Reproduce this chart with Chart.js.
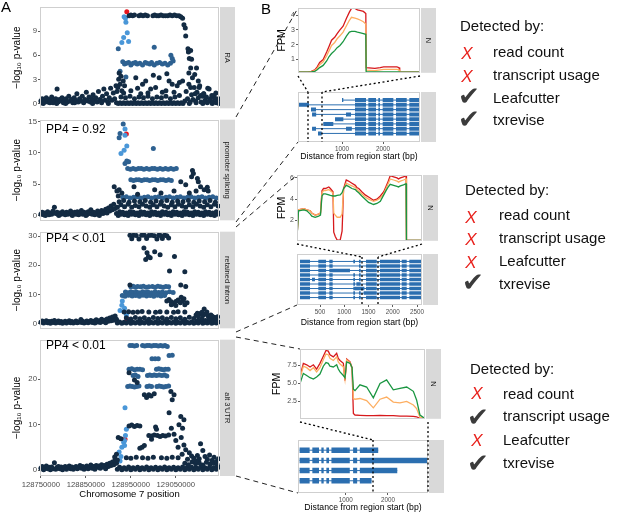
<!DOCTYPE html>
<html>
<head>
<meta charset="utf-8">
<script src="https://cdn.jsdelivr.net/npm/chart.js@4.4.0/dist/chart.umd.min.js"></script>
<style>
  body { margin: 0; background: #fff; }
  #fig { position: relative; width: 617px; height: 513px; overflow: hidden; font-family: "Liberation Sans", Arial, sans-serif; }
  #fig canvas { position: absolute; }
  .t { position: absolute; white-space: nowrap; line-height: 1; color: #111; font-size: 15px; }
  .mk { position: absolute; width: 24px; height: 24px; display: flex; align-items: center; justify-content: center; line-height: 1; }
  .no { color: #e8211c; font-style: italic; font-size: 17px; }
  .yes { color: #3b3b3b; font-family: "DejaVu Sans"; font-size: 26px; }
  svg { position: absolute; left: 0; top: 0; }
</style>
</head>
<body>
<div id="fig">
  <canvas id="a1" width="238" height="114" style="left:0;top:0"></canvas>
  <canvas id="a2" width="238" height="112" style="left:0;top:114px"></canvas>
  <canvas id="a3" width="238" height="108" style="left:0;top:226px"></canvas>
  <canvas id="a4" width="238" height="179" style="left:0;top:334px"></canvas>
  <canvas id="c1" width="170" height="78" style="left:270px;top:0"></canvas>
  <canvas id="t1" width="170" height="77" style="left:270px;top:88px"></canvas>
  <canvas id="c2" width="172" height="81" style="left:270px;top:165px"></canvas>
  <canvas id="t2" width="172" height="80" style="left:270px;top:250px"></canvas>
  <canvas id="c3" width="175" height="84" style="left:270px;top:340px"></canvas>
  <canvas id="t3" width="175" height="77" style="left:270px;top:436px"></canvas>

  <svg width="617" height="513">
    <g stroke="#222" stroke-width="1" stroke-dasharray="5 4" fill="none">
      <line x1="236" y1="117" x2="298" y2="8"/>
      <line x1="236" y1="222" x2="298" y2="142"/>
      <line x1="236" y1="227" x2="297" y2="175"/>
      <line x1="236" y1="332" x2="297" y2="305"/>
      <line x1="236" y1="337" x2="300" y2="349"/>
      <line x1="236" y1="476" x2="298" y2="493"/>
    </g>
    <g stroke="#000" stroke-width="1.3" stroke-dasharray="2 2.5" fill="none">
      <line x1="298" y1="76" x2="308" y2="92"/>
      <line x1="420" y1="76" x2="322" y2="92"/>
      <line x1="308" y1="92" x2="308" y2="142"/>
      <line x1="322" y1="92" x2="322" y2="142"/>
      <line x1="297" y1="244" x2="362" y2="257"/>
      <line x1="422" y1="244" x2="378" y2="257"/>
      <line x1="362" y1="257" x2="362" y2="305"/>
      <line x1="378" y1="257" x2="378" y2="305"/>
      <line x1="300" y1="422" x2="373" y2="440"/>
      <line x1="373" y1="440" x2="373" y2="493"/>
      <line x1="428" y1="422" x2="428" y2="493"/>
    </g>
  </svg>

  <div class="t" style="left:1px;top:-1px;font-size:15px;color:#000">A</div>
  <div class="t" style="left:261px;top:1px;font-size:15px;color:#000">B</div>

  <div class="t" style="left:460px;top:18px">Detected by:</div>
  <div class="mk no" style="left:455px;top:41px">X</div><div class="t" style="left:493px;top:44px">read count</div>
  <div class="mk no" style="left:455px;top:64px">X</div><div class="t" style="left:493px;top:67px">transcript usage</div>
  <div class="mk yes" style="left:457px;top:84px">✔</div><div class="t" style="left:493px;top:90px">Leafcutter</div>
  <div class="mk yes" style="left:457px;top:107px">✔</div><div class="t" style="left:493px;top:112px">txrevise</div>

  <div class="t" style="left:465px;top:182px">Detected by:</div>
  <div class="mk no" style="left:459px;top:205px">X</div><div class="t" style="left:499px;top:207px">read count</div>
  <div class="mk no" style="left:459px;top:227px">X</div><div class="t" style="left:499px;top:230px">transcript usage</div>
  <div class="mk no" style="left:459px;top:250px">X</div><div class="t" style="left:499px;top:253px">Leafcutter</div>
  <div class="mk yes" style="left:461px;top:270px">✔</div><div class="t" style="left:499px;top:276px">txrevise</div>

  <div class="t" style="left:470px;top:361px">Detected by:</div>
  <div class="mk no" style="left:465px;top:381px">X</div><div class="t" style="left:503px;top:386px">read count</div>
  <div class="mk yes" style="left:466px;top:405px">✔</div><div class="t" style="left:503px;top:408px">transcript usage</div>
  <div class="mk no" style="left:465px;top:428px">X</div><div class="t" style="left:503px;top:432px">Leafcutter</div>
  <div class="mk yes" style="left:466px;top:451px">✔</div><div class="t" style="left:503px;top:455px">txrevise</div>
</div>

<script>
// ---- panel A: positions are kb past chrOffset, values are -log10 p ----
const chrOffset = 128750000;
const chrTicks = [128750000, 128850000, 128950000, 129050000];

const raDark = [
  0,0.3, 3,0.6, 5,0.0, 6,0.1, 9,0.4, 12,0.7, 15,0.2, 18,0.5, 20,0.1, 21,0.3, 24,0.8, 27,0.1, 30,0.4, 33,0.6, 35,0.0, 36,1.8, 38,0.2, 41,0.5, 44,0.3, 47,0.7, 50,0.1, 53,0.4, 55,0.0, 56,0.6, 59,0.2, 62,0.9, 65,0.3, 68,0.5, 71,0.1, 74,0.7, 75,0.1, 77,0.4, 80,1.2, 83,0.2, 86,0.6, 89,0.3, 92,0.9, 95,0.1, 98,0.5, 101,1.4, 104,0.3, 107,0.8, 110,0.2, 113,0.6, 115,0.0, 116,1.1, 119,0.4, 122,0.7, 125,0.2, 128,1.5, 131,0.5, 134,0.3, 135,0.1, 137,0.9, 140,1.8, 143,0.4, 146,1.2, 149,0.2, 150,0.0, 152,0.7, 155,1.9, 158,0.4, 161,1.3, 164,0.6, 167,2.2,
  168,0.1, 172,0.0, 176,0.1, 180,0.0, 184,0.1, 188,0.0, 192,0.1, 196,0.0, 200,0.1, 204,0.0, 208,0.1, 212,0.0, 216,0.1, 220,0.0, 224,0.1, 228,0.0, 232,0.1, 236,0.0, 240,0.1, 244,0.0, 248,0.1, 252,0.0, 256,0.1, 260,0.0, 264,0.1, 268,0.0, 272,0.1, 276,0.0, 280,0.1, 284,0.0, 288,0.1, 292,0.0, 296,0.1, 300,0.0, 304,0.1, 308,0.0, 312,0.1, 316,0.0,
  178,0.8, 188,0.7, 198,0.9, 208,0.6, 218,0.8, 228,0.7, 238,0.9, 248,0.6, 258,0.8, 268,0.7, 278,0.9, 288,0.6, 298,0.8, 308,1.0,
  320,0.3, 323,1.5, 326,0.6, 329,2.4, 330,0.0, 332,0.2, 335,1.1, 338,0.5, 341,2.0, 344,0.3, 345,0.1, 347,1.4, 350,0.7, 353,2.2, 356,0.2, 359,0.9, 360,0.0, 362,1.2, 365,0.4, 368,0.8, 370,0.1, 371,1.9, 374,0.3, 377,0.6, 380,1.0, 381,0.0, 383,0.2, 386,0.7, 389,1.3, 390,0.1, 392,0.4, 395,0.6, 396,0.0,
  196,10.9, 200,11.0, 204,10.9, 208,11.0, 218,10.9, 222,11.0, 227,10.9, 232,11.0, 237,10.9, 249,10.9, 253,11.0, 258,10.9, 262,10.9, 267,11.0, 272,10.9, 277,10.9, 282,10.9, 287,11.0, 292,10.9, 297,11.0, 302,10.9, 307,10.9, 311,10.8,
  315,10.6, 318,9.8, 321,9.4, 322,8.4, 327,6.8, 333,6.6, 328,6.4, 330,5.6, 335,5.5, 333,4.4, 346,4.4, 329,3.8, 337,3.2, 342,3.6, 350,2.8,
  211,3.2, 233,2.8, 263,3.2, 285,2.8, 226,2.4, 244,1.8, 222,1.2, 270,1.4, 292,2.4, 303,2.2, 308,2.6, 315,2.8, 333,2.0, 343,1.2, 352,2.0, 374,1.8, 355,1.0, 362,1.2, 385,1.0, 200,1.6, 215,1.9, 238,1.3, 255,2.0, 278,1.6, 296,1.4, 250,3.5, 280,3.7,
  174,3.8, 178,3.4, 173,3.0, 183,2.8, 176,2.4, 186,2.2, 171,2.0, 180,1.6, 184,1.3, 169,1.5
];
const raMid = [182,5.2, 186,4.9, 190,5.0, 195,5.1, 200,4.8, 205,5.0, 210,5.1, 214,4.9, 220,5.0, 226,4.8, 232,5.1, 236,5.0, 242,4.9, 246,5.1, 252,4.8, 258,5.0, 264,5.1, 270,4.9, 276,5.0, 282,4.8, 288,5.0, 292,5.6, 294,5.3, 289,6.0, 172,6.8, 252,7.0, 189,3.3, 176,4.0];
const raLight = [185,10.8, 188,10.6, 189,10.1, 192,8.8, 184,8.2, 180,7.6, 195,7.7];
const raLead = [191,11.4];

const prDark = [
  0,0.2, 3,0.5, 6,0.1, 9,0.4, 10,0.0, 12,0.3, 15,0.6, 18,0.1, 21,0.4, 24,0.2, 27,0.7, 30,1.3, 33,0.3, 36,0.5, 39,0.1, 40,0.0, 42,0.4, 45,0.2, 48,0.6, 51,0.3, 54,0.1, 57,0.5, 60,0.2, 63,0.4, 66,0.7, 69,0.1, 70,0.0, 72,0.3, 75,0.5, 78,0.2, 81,0.6, 84,0.1, 87,0.4, 90,0.8, 93,0.2, 96,0.5, 99,0.3, 100,0.0, 102,0.1, 105,0.6, 108,0.3, 111,0.9, 114,0.2, 117,0.5, 120,0.1, 123,0.4, 126,0.7, 129,0.2, 130,0.0, 132,0.5, 135,0.8, 138,0.3, 141,0.6, 144,1.0, 147,0.4, 150,1.2, 153,0.7, 156,1.5, 159,0.9, 162,1.8, 165,1.1,
  168,0.3, 172,0.0, 175,0.6, 178,0.2, 182,0.5, 186,0.1, 190,0.4, 194,0.0, 198,0.6, 202,0.2, 206,0.5, 210,0.1, 214,0.4, 218,0.0, 222,0.6, 226,0.2, 230,0.5, 234,0.1, 238,0.4, 242,0.0, 246,0.6, 250,0.2, 254,0.5, 258,0.1, 262,0.4, 266,0.0, 270,0.6, 274,0.2, 278,0.5, 282,0.1, 286,0.4, 290,0.0, 294,0.6, 298,0.2, 302,0.5, 306,0.1, 310,0.4, 314,0.0, 318,0.6, 322,0.2, 326,0.5, 330,0.1, 334,0.4, 338,0.0, 342,0.6, 346,0.2, 350,0.5, 354,0.1, 358,0.4, 362,0.0, 366,0.6, 370,0.2, 374,0.5, 378,0.1, 382,0.4, 386,0.0, 390,0.6, 394,0.2, 396,0.4,
  170,1.3, 178,1.7, 186,1.4, 194,1.8, 202,1.3, 210,1.6, 218,1.4, 226,1.8, 234,1.5, 242,1.3, 250,1.7, 258,1.4, 266,1.8, 274,1.5, 282,1.3, 290,1.7, 298,1.4, 306,1.8, 314,1.5, 322,1.3, 330,1.7, 338,1.4, 346,1.8, 354,1.5, 362,1.3, 370,1.7, 378,1.4, 386,1.8, 394,1.5,
  174,2.2, 184,2.4, 196,2.1, 208,2.3, 220,2.2, 232,2.4, 244,2.1, 256,2.3, 268,2.2, 280,2.4, 292,2.1, 304,2.3, 316,2.2, 328,2.4, 340,2.1, 352,2.3, 364,2.2, 376,2.4, 388,2.1,
  163,4.6, 169,3.9, 174,4.1, 172,3.1, 180,3.6, 207,4.6, 215,3.4, 253,4.1, 267,3.6, 296,3.9,
  337,7.2, 339,6.7, 335,6.2, 348,5.9, 350,5.4, 311,5.4, 322,4.9, 355,4.6, 363,4.1, 370,4.5, 372,3.9, 330,3.6, 345,3.9
];
const prMid = [
  182,2.9, 190,3.0, 198,2.8, 206,2.9, 214,3.0, 222,2.8, 230,2.9, 238,3.0, 246,2.8, 254,2.9, 262,3.0, 270,2.8, 278,2.9, 286,3.0, 294,2.8, 302,2.9, 310,3.0, 318,2.8, 326,2.9, 334,3.0, 342,2.8, 350,2.9, 358,3.0, 366,2.8, 374,2.9, 382,3.0, 390,2.8,
  200,5.7, 206,5.6, 212,5.7, 218,5.7, 224,5.6, 230,5.7, 236,5.7, 242,5.6, 248,5.7, 254,5.7, 260,5.6, 266,5.7, 272,5.7, 278,5.6, 284,5.7, 290,5.6,
  193,7.5, 199,7.4, 205,7.5, 211,7.4, 217,7.5, 223,7.5, 229,7.4, 235,7.5, 241,7.4, 247,7.5, 253,7.5, 259,7.4, 265,7.5, 271,7.4, 277,7.5, 283,7.4, 289,7.5, 295,7.4, 301,7.5,
  191,8.7, 187,8.3, 195,8.6, 183,14.6, 176,13.1, 174,12.4, 250,10.7
];
const prLight = [187,13.8, 187,12.8, 191,11.1, 185,10.4, 178,9.9];
const prLead = [190,13.0];

const riDark = [
  0,0.5, 3,0.9, 6,0.2, 9,0.6, 12,1.0, 15,0.3, 18,0.7, 21,0.1, 24,0.8, 27,0.4, 30,1.1, 33,0.2, 36,0.6, 39,0.9, 42,0.3, 45,0.7, 48,0.1, 51,0.5, 54,0.8, 57,0.2, 60,0.6, 63,1.0, 66,0.3, 69,0.7, 72,0.2, 75,0.5, 78,0.9, 81,0.3, 84,0.6, 89,1.4, 90,0.4, 93,0.8, 96,0.2, 99,0.5, 102,0.9, 105,0.3, 108,0.7, 111,1.1, 114,0.4, 117,0.8, 120,0.2, 123,1.3, 126,0.6, 129,1.0, 132,0.4, 135,1.5, 138,0.7, 141,1.2, 144,0.3, 147,1.6, 150,0.8, 153,1.9, 156,1.0, 159,2.3, 162,1.2, 165,2.6, 168,1.5,
  170,0.2, 175,0.6, 180,0.1, 185,0.5, 190,0.2, 195,0.7, 200,0.1, 205,0.5, 210,0.2, 215,0.6, 220,0.1, 225,0.5, 230,0.2, 235,0.7, 240,0.1, 245,0.5, 250,0.2, 255,0.6, 260,0.1, 265,0.5, 270,0.2, 275,0.7, 280,0.1, 285,0.5, 290,0.2, 295,0.6, 300,0.1, 305,0.5, 310,0.2, 315,0.7, 320,0.1, 325,0.5, 330,0.2, 335,0.6, 340,0.1, 345,0.5, 350,0.2, 355,0.7, 360,0.1, 365,0.5, 370,0.2, 375,0.6, 380,0.1, 385,0.5, 390,0.2, 395,0.6,
  190,2.0, 200,1.6, 210,2.1, 220,1.7, 230,2.0, 240,1.5, 250,2.1, 260,1.8, 270,2.0, 280,1.6, 290,2.1, 300,1.7, 310,2.0, 320,1.5, 330,2.2, 340,1.8, 350,1.2, 358,1.6, 366,1.1, 374,1.8, 382,1.3, 390,1.0,
  185,4.0, 195,4.1, 205,3.9, 215,4.0, 225,4.2, 240,4.0, 255,3.9, 265,4.1, 280,4.0, 295,3.9, 305,4.1, 320,4.0,
  363,5.0, 369,4.0, 355,3.5, 360,2.8, 345,3.0, 350,2.5, 365,3.2, 372,2.6, 378,3.0, 385,2.2, 375,1.8, 390,2.0, 348,3.6, 358,3.9, 380,2.6, 393,2.4,
  198,30.3, 202,29.1, 206,30.3, 212,30.2, 218,29.0, 224,30.3, 230,30.3, 235,29.2, 240,30.2, 246,30.3, 252,30.1, 258,29.0, 262,30.3, 266,30.2, 270,29.2, 275,30.3, 280,30.1, 284,29.3,
  229,25.9, 236,24.3, 233,22.0, 239,23.0, 243,22.6, 253,24.6, 265,23.6, 297,23.0, 286,18.0, 320,17.8, 311,13.2, 322,12.7, 198,13.2,
  280,7.8, 285,8.3, 290,7.5, 295,6.9, 300,7.6, 305,8.1, 310,7.2, 315,7.8, 320,6.5, 300,6.2, 290,6.5, 325,7.2, 312,9.0, 318,8.5
];
const riMid = [
  200,12.6, 205,12.8, 210,12.5, 215,12.7, 222,12.6, 228,12.8, 234,12.5, 240,12.6, 248,12.7, 254,12.5, 260,12.8, 266,12.6, 272,12.5, 278,12.7, 284,12.6,
  188,10.8, 194,10.6, 200,10.9, 206,10.7, 212,10.8, 218,10.6, 226,10.9, 232,10.7, 238,10.8, 246,10.6, 254,10.9, 262,10.7, 270,10.8, 278,10.6, 286,10.9, 294,10.7,
  181,9.6, 187,9.4, 195,9.7, 203,9.5, 211,9.6, 219,9.4, 227,9.7, 235,9.5, 243,9.6, 251,9.4, 259,9.7, 267,9.5, 275,9.6
];
const riLight = [181,7.8, 180,6.3, 186,5.3, 176,4.5, 190,3.0];
const riLead = [191,1.7];

const auDark = [
  0,0.4, 3,0.8, 6,0.1, 9,0.5, 12,0.9, 15,0.3, 18,0.6, 21,0.1, 24,0.7, 27,0.3, 30,1.6, 33,0.2, 36,0.6, 39,0.8, 42,0.3, 45,0.7, 48,0.1, 51,0.5, 54,0.8, 57,0.2, 60,0.6, 63,0.9, 66,0.3, 69,0.7, 72,0.2, 75,0.5, 78,0.8, 81,0.3, 84,0.6, 87,1.0, 90,0.4, 93,0.8, 96,0.2, 99,0.5, 102,0.9, 105,0.3, 108,0.7, 111,1.1, 114,0.4, 117,0.8, 120,0.2, 123,1.0, 126,0.6, 129,0.9, 132,0.4, 135,1.2, 138,0.7, 141,1.0, 144,0.3, 147,1.3, 150,0.8, 153,1.5, 156,1.0, 159,1.8, 162,1.2, 165,2.2, 168,1.5,
  170,0.2, 175,0.6, 180,0.1, 185,0.5, 190,0.2, 195,0.7, 200,0.1, 205,0.5, 210,0.2, 215,0.6, 220,0.1, 225,0.5, 230,0.2, 235,0.7, 240,0.1, 245,0.5, 250,0.2, 255,0.6, 260,0.1, 265,0.5, 270,0.2, 275,0.7, 280,0.1, 285,0.5, 290,0.2, 295,0.6, 300,0.1, 305,0.5, 310,0.2, 315,0.7, 320,0.1, 325,0.5, 330,0.2, 335,0.6, 340,0.1, 345,0.5, 350,0.2, 355,0.7, 360,0.1, 365,0.5, 370,0.2, 375,0.6, 380,0.1, 385,0.5, 390,0.2, 395,0.6,
  320,1.5, 328,1.2, 336,1.8, 344,1.4, 352,1.6, 360,1.1, 368,1.7, 376,1.3, 384,1.5, 392,1.2,
  164,2.9, 190,2.7, 200,2.6, 212,2.8, 226,2.7, 238,2.6, 250,2.8, 268,2.7, 280,2.6, 292,2.8, 305,2.7,
  355,5.8, 360,4.3, 348,3.2, 352,2.5, 365,3.0, 370,2.4, 375,3.3, 380,2.1, 385,2.8, 390,1.9, 395,2.5, 340,2.6, 345,2.0, 335,3.1, 330,3.8, 326,2.4,
  196,21.4, 230,16.6, 235,16.0, 240,16.6, 245,16.3, 252,16.8, 289,17.3, 296,16.6, 292,15.5, 208,19.8, 214,19.3,
  285,12.6, 311,11.8, 318,11.1, 307,10.0, 315,9.2, 290,9.2, 296,7.9, 300,6.5, 305,5.0, 312,7.2, 318,5.5, 322,4.5, 314,3.5,
  196,9.7, 202,9.9, 208,9.6, 214,9.8, 220,9.7, 255,9.5, 257,9.0,
  240,7.6, 246,7.5, 252,7.7, 259,7.6, 265,7.4, 271,7.6, 277,7.5, 284,7.7, 246,6.8, 230,5.4, 220,4.8, 225,5.0,
  172,7.2, 178,6.9, 168,3.5, 170,2.2
];
const auMid = [
  198,27.4, 203,27.4, 208,27.3, 213,27.4, 226,27.4, 231,27.3, 236,27.4, 241,27.4, 246,27.3, 251,27.4, 256,27.4, 261,27.3, 266,27.4, 271,27.3, 276,27.4, 281,27.2,
  285,25.2, 292,25.3, 247,24.5, 254,24.5, 261,24.5,
  196,22.2, 202,22.3, 208,22.1, 214,22.2, 220,22.2, 226,22.1, 257,22.2, 262,22.3, 267,22.2, 272,22.1, 277,22.2, 283,22.2,
  205,20.8, 210,20.9, 216,20.6, 237,20.8, 242,20.9, 247,20.8, 252,20.9, 257,20.8, 263,20.9, 269,20.8, 275,20.9, 280,20.7,
  193,18.4, 198,18.5, 203,18.4, 208,18.3, 213,18.4, 218,18.5, 236,18.4, 241,18.5, 246,18.4, 258,18.4, 263,18.5, 268,18.4, 273,18.3, 278,18.4, 284,18.5
];
const auLight = [174,4.0, 180,5.0, 184,6.1, 186,6.5, 188,7.6, 190,9.0, 186,5.4, 178,3.0, 176,2.0, 187,13.7];
const auLead = [187,6.8];

// ---- panel B: coverage (FPM) ----
const cov1X = [170,199,208,218,225,232,242,252,259,266,275,282,290,299,309,317,323,333,340,349,357,364,365,390,405,415,453,459,461,519];
const cov1Red = [0.14,0.15,0.2,0.3,0.5,0.8,1.0,1.5,1.9,2.3,2.5,2.75,3.0,3.25,3.8,4.2,4.45,4.45,4.35,4.3,4.25,4.1,0.45,0.4,0.45,0.5,0.5,0.45,0.14,0.14];
const cov1Orange = [0.14,0.15,0.18,0.25,0.4,0.65,0.85,1.25,1.6,1.95,2.15,2.4,2.6,2.85,3.3,3.65,3.85,3.8,3.75,3.65,3.55,3.4,0.28,0.25,0.3,0.33,0.33,0.3,0.14,0.14];
const cov1Green = [0.14,0.14,0.16,0.2,0.3,0.45,0.6,0.9,1.2,1.4,1.6,1.8,1.95,2.2,2.6,2.85,2.9,2.9,2.85,2.8,2.75,2.7,0.16,0.16,0.16,0.16,0.16,0.16,0.14,0.14];

const cov2X = [1365,1369,1383,1391,1400,1404,1413,1422,1427,1431,1435,1440,1449,1453,1460,1462,1466,1471,1479,1484,1488,1495,1501,1510,1519,1523,1528,1536,1545,1554,1563,1567,1576,1585,1594,1600,1605,1611,1620,1629,1633,1638,1646,1653,1654,1695];
const cov2Red = [0.4,3.0,3.1,3.0,2.9,2.7,2.5,2.6,2.7,4.8,5.0,5.0,5.15,5.0,4.7,0.9,0.5,0.15,0.15,1.0,5.0,5.8,5.7,5.5,5.3,5.1,5.0,4.7,4.4,4.2,4.0,3.9,4.0,4.3,4.7,5.2,5.6,6.2,6.1,6.0,5.9,6.0,6.1,6.2,0.15,0.12];
const cov2Orange = [0.4,3.0,3.1,3.0,2.9,2.7,2.5,2.6,2.7,4.6,4.8,4.8,4.9,4.8,4.6,2.7,2.5,2.3,2.3,2.6,4.9,5.5,5.4,5.25,5.1,4.9,4.75,4.5,4.2,4.0,3.85,3.8,3.9,4.1,4.5,5.0,5.4,5.9,5.8,5.7,5.6,5.7,5.8,5.9,0.15,0.12];
const cov2Green = [0.35,2.9,3.0,2.9,2.6,2.4,2.3,2.4,2.5,4.3,4.5,4.5,4.4,4.35,4.3,4.3,4.3,4.35,4.4,4.6,5.0,5.3,5.2,5.0,4.9,4.75,4.6,4.3,4.0,3.7,3.55,3.5,3.6,3.8,4.4,4.8,5.1,5.4,5.3,5.2,5.15,5.25,5.35,5.45,0.15,0.12];

const cov3X = [1640,1675,1710,1745,1780,1814,1849,1884,1912,1936,1954,1989,2024,2041,2059,2094,2111,2129,2164,2185,2199,2216,2268,2338,2408,2478,2547,2617,2687,2757,2827,2861,2896,2949];
const cov3Red = [6.0,7.8,7.6,7.3,7.6,7.0,7.8,8.8,9.6,9.5,9.0,8.7,9.2,8.5,8.2,7.8,5.4,8.4,8.0,7.2,0.8,0.6,0.55,0.5,0.5,0.55,0.5,0.5,0.45,0.45,0.4,0.35,0.12,0.1];
const cov3Orange = [5.7,7.4,7.2,6.8,7.2,6.6,7.2,8.3,9.1,9.0,8.5,8.2,8.7,8.0,7.7,7.3,5.6,8.3,7.9,7.0,2.9,2.8,2.9,2.6,1.6,2.8,3.1,2.4,2.3,2.5,2.0,1.5,0.3,0.1];
const cov3Green = [5.0,6.4,6.1,5.8,5.6,5.9,6.3,7.4,7.9,7.8,7.4,7.3,7.6,7.0,6.6,6.1,5.8,8.0,7.8,7.2,4.2,4.0,4.8,4.5,3.0,5.0,5.5,4.1,4.3,4.5,3.9,2.7,0.6,0.1];

// ---- panel B: transcript structures (bp from region start) ----
const tx1Spans = [[1000,2902],[-73,2902],[244,2902],[270,2902],[830,2902],[544,2902],[270,2902],[415,2902]];
const tx1Shared = [[1317,1585],[1642,1829],[1886,1927],[1992,2252],[2317,2578],[2642,2902]];
const tx1First = [[[1000,1032]],[[-73,195]],[[244,366]],[[270,370],[1098,1220]],[[830,1033]],[[544,788]],[[270,366],[1098,1240]],[[415,505]]];

const tx2Spans = [[88,2595],[88,2595],[88,2595],[88,2595],[88,2595],[88,2595],[88,2595],[88,2595],[88,2595]];
const tx2Exons = [
  [[88,294],[465,624],[692,761],[1186,1221],[1303,1338],[1448,1668],[1736,2148],[2183,2286],[2340,2595]],
  [[88,294],[465,624],[692,761],[1303,1338],[1448,1668],[1736,2148],[2183,2286],[2340,2595]],
  [[88,294],[465,624],[692,1117],[1303,1338],[1448,1668],[1736,2148],[2183,2286],[2340,2595]],
  [[88,294],[465,624],[692,761],[1186,1221],[1303,1338],[1448,1668],[1736,2148],[2183,2286],[2340,2595]],
  [[88,294],[335,396],[465,624],[692,761],[1186,1221],[1303,1338],[1448,1668],[1736,2148],[2183,2286],[2340,2595]],
  [[88,294],[465,624],[692,761],[1186,1221],[1250,1338],[1448,1668],[1736,2148],[2183,2286],[2340,2595]],
  [[88,294],[465,624],[692,761],[1186,1414],[1448,1668],[1736,2148],[2183,2286],[2340,2595]],
  [[88,294],[465,624],[692,761],[1186,1221],[1303,1338],[1400,1668],[1736,2148],[2183,2286],[2340,2595]],
  [[88,294],[465,624],[692,761],[1186,1221],[1303,1338],[1448,1668],[1736,2148],[2183,2286],[2340,2595]]
];

const tx3Spans = [[-95,1769],[-95,2950],[-95,2221],[-95,1611]];
const tx3Shared = [[-95,143],[207,365],[421,476],[540,603],[660,1095],[1174,1270]];
const tx3Last = [[1333,1769],[1333,2950],[1333,2221],[1333,1611]];

const DARK = "#132B43", MID = "#2E6191", LIGHT = "#4A97D8", LEAD = "#E8141C";
const RED = "#d7191c", ORANGE = "#fdae61", GREEN = "#1a9641", TX = "#2c6fb0";

Chart.defaults.font.family = '"Liberation Sans", Arial, sans-serif';
Chart.defaults.color = "#4d4d4d";

const pairs = arr => {
  const out = [];
  for (let i = 0; i < arr.length; i += 2) out.push({ x: arr[i], y: arr[i + 1] });
  return out;
};

// panel border, grey strip on the right, optional corner note
const panelPlugin = {
  id: "panel",
  afterDatasetsDraw(chart, args, o) {
    const { ctx, chartArea: a } = chart;
    ctx.save();
    ctx.strokeStyle = "#cfcfcf";
    ctx.lineWidth = 1;
    ctx.strokeRect(Math.round(a.left) + 0.5, Math.round(a.top) + 0.5, Math.round(a.right - a.left) - 1, Math.round(a.bottom - a.top) - 1);
    const sx = a.right + 1, w = 15;
    ctx.fillStyle = "#d9d9d9";
    ctx.fillRect(sx, a.top, w, a.bottom - a.top);
    if (o.strip) {
      ctx.translate(sx + w / 2, (a.top + a.bottom) / 2);
      ctx.rotate(Math.PI / 2);
      ctx.fillStyle = "#1a1a1a";
      ctx.font = '7.5px "Liberation Sans", Arial, sans-serif';
      ctx.textAlign = "center";
      ctx.textBaseline = "middle";
      ctx.fillText(o.strip, 0, 0);
      ctx.setTransform(1, 0, 0, 1, 0, 0);
    }
    if (o.note) {
      ctx.fillStyle = "#000";
      ctx.font = '12px "Liberation Sans", Arial, sans-serif';
      ctx.textAlign = "left";
      ctx.textBaseline = "middle";
      ctx.fillText(o.note, a.left + 6, a.top + o.noteY);
    }
    ctx.restore();
  }
};

const tickGrid = { drawOnChartArea: false, drawTicks: true, tickLength: 2, color: "#333", lineWidth: 0.8 };

function scatterPanel(id, cfg) {
  const sets = [[cfg.dark, DARK], [cfg.mid, MID], [cfg.light, LIGHT], [cfg.lead, LEAD]].map(([d, c]) => ({
    data: pairs(d), backgroundColor: c, pointRadius: 2.5, borderWidth: 0, clip: 4
  }));
  new Chart(document.getElementById(id), {
    type: "scatter",
    data: { datasets: sets },
    options: {
      responsive: false, animation: false, events: [],
      layout: { padding: { top: cfg.padTop, bottom: cfg.padBottom, right: 19 } },
      plugins: { legend: { display: false }, tooltip: { enabled: false },
        panel: { strip: cfg.strip, note: cfg.note || "", noteY: cfg.noteY || 0 } },
      scales: {
        x: {
          type: "linear", min: -2, max: 396, display: !!cfg.showX,
          afterFit: s => { if (cfg.showX) s.height = 37; },
          afterBuildTicks: s => { s.ticks = chrTicks.map(v => ({ value: (v - chrOffset) / 1000 })); },
          ticks: { callback: (v, i) => String(chrTicks[i]), font: { size: 7.7 }, padding: 2, maxRotation: 0, autoSkip: false },
          grid: tickGrid, border: { display: false },
          title: { display: true, text: "Chromosome 7 position", color: "#000", font: { size: 9.5 }, padding: { top: 0, bottom: 13 } }
        },
        y: {
          min: cfg.yMin, max: cfg.yMax,
          afterFit: s => { s.width = 40; },
          afterBuildTicks: s => { s.ticks = cfg.yTicks.map(v => ({ value: v })); },
          ticks: { font: { size: 7.8 }, padding: 1 },
          grid: tickGrid, border: { display: false },
          title: { display: true, text: "−log₁₀ p-value", color: "#000", font: { size: 10 }, padding: { top: 11.5, bottom: 0 } }
        }
      }
    },
    plugins: [panelPlugin]
  });
}

function coveragePanel(id, cfg) {
  const line = (ys, c) => ({ data: cfg.x.map((x, i) => ({ x, y: ys[i] })), borderColor: c, borderWidth: 1.3, pointRadius: 0, tension: 0 });
  new Chart(document.getElementById(id), {
    type: "line",
    data: { datasets: [line(cfg.green, GREEN), line(cfg.orange, ORANGE), line(cfg.red, RED)] },
    options: {
      responsive: false, animation: false, events: [],
      layout: { padding: { top: cfg.padTop, bottom: 3, right: 20 } },
      plugins: { legend: { display: false }, tooltip: { enabled: false }, panel: { strip: "N" } },
      scales: {
        x: { type: "linear", display: false, min: cfg.x[0], max: cfg.x[cfg.x.length - 1] },
        y: {
          min: cfg.yMin, max: cfg.yMax,
          afterFit: s => { s.width = cfg.axisW; },
          afterBuildTicks: s => { s.ticks = cfg.yTicks.map(v => ({ value: v })); },
          ticks: { font: { size: 7 }, padding: 1, callback: v => cfg.fixed ? v.toFixed(1) : String(v) },
          grid: tickGrid, border: { display: false },
          title: { display: true, text: "FPM", color: "#000", font: { size: 10.5 }, padding: { top: cfg.titlePad, bottom: 0 } }
        }
      }
    },
    plugins: [panelPlugin]
  });
}

function transcriptPanel(id, cfg) {
  const intron = [], exon = [];
  cfg.spans.forEach((s, r) => intron.push({ x: s[0], y: r + 1 }, { x: s[1], y: r + 1 }, { x: s[1], y: null }));
  cfg.exons.forEach((row, r) => row.forEach(e => exon.push({ x: e[0], y: r + 1 }, { x: e[1], y: r + 1 }, { x: e[1], y: null })));
  new Chart(document.getElementById(id), {
    type: "line",
    data: { datasets: [
      { data: intron, borderColor: TX, borderWidth: 1, pointRadius: 0, spanGaps: false },
      { data: exon, borderColor: TX, borderWidth: cfg.thick, borderCapStyle: "butt", pointRadius: 0, spanGaps: false }
    ] },
    options: {
      responsive: false, animation: false, events: [],
      layout: { padding: { top: 4, left: cfg.left, right: cfg.right } },
      plugins: { legend: { display: false }, tooltip: { enabled: false }, panel: { strip: "" } },
      scales: {
        x: {
          type: "linear", min: cfg.xMin, max: cfg.xMax,
          afterFit: s => { s.height = cfg.axisH; },
          afterBuildTicks: s => { s.ticks = cfg.xTicks.map(v => ({ value: v })); },
          ticks: { font: { size: 6.3 }, padding: 1, maxRotation: 0, autoSkip: false, callback: v => String(v) },
          grid: tickGrid, border: { display: false },
          title: { display: true, text: "Distance from region start (bp)", color: "#000", font: { size: 8.7 }, padding: { top: 0, bottom: cfg.titlePad } }
        },
        y: { type: "linear", display: false, reverse: true, min: cfg.yMin, max: cfg.yMax }
      }
    },
    plugins: [panelPlugin]
  });
}

scatterPanel("a1", { dark: raDark, mid: raMid, light: raLight, lead: raLead, yMin: -0.6, yMax: 12.0, yTicks: [0, 3, 6, 9], padTop: 7, padBottom: 2, strip: "RA" });
scatterPanel("a2", { dark: prDark, mid: prMid, light: prLight, lead: prLead, yMin: -0.77, yMax: 15.3, yTicks: [0, 5, 10, 15], padTop: 3, padBottom: 4, strip: "promoter splicing", note: "PP4 = 0.92", noteY: 10.5 });
scatterPanel("a3", { dark: riDark, mid: riMid, light: riLight, lead: riLead, yMin: -1.6, yMax: 31.5, yTicks: [0, 10, 20, 30], padTop: 1, padBottom: 2, strip: "retained intron", note: "PP4 < 0.01", noteY: 7 });
scatterPanel("a4", { dark: auDark, mid: auMid, light: auLight, lead: auLead, yMin: -1.3, yMax: 28.7, yTicks: [0, 10, 20], padTop: 3, padBottom: 0, strip: "alt 3'UTR", note: "PP4 < 0.01", noteY: 6, showX: true });

coveragePanel("c1", { x: cov1X, red: cov1Red, orange: cov1Orange, green: cov1Green, yMin: 0.1, yMax: 4.48, yTicks: [1, 2, 3, 4], padTop: 8, axisW: 28, titlePad: 5.7 });
coveragePanel("c2", { x: cov2X, red: cov2Red, orange: cov2Orange, green: cov2Green, yMin: 0.09, yMax: 6.27, yTicks: [2, 4, 6], padTop: 10, axisW: 27, titlePad: 5.4 });
coveragePanel("c3", { x: cov3X, red: cov3Red, orange: cov3Orange, green: cov3Green, yMin: 0.07, yMax: 9.8, yTicks: [2.5, 5, 7.5], padTop: 9, axisW: 30, titlePad: 0.5, fixed: true });

transcriptPanel("t1", { spans: tx1Spans, exons: tx1First.map(f => f.concat(tx1Shared)), xMin: -73, xMax: 2902, xTicks: [1000, 2000], yMin: -0.7, yMax: 9.8, thick: 4, left: 28, right: 20, axisH: 23, titlePad: 2.8 });
transcriptPanel("t2", { spans: tx2Spans, exons: tx2Exons, xMin: 26, xMax: 2601, xTicks: [500, 1000, 1500, 2000, 2500], yMin: -0.65, yMax: 10.65, thick: 3.6, left: 27, right: 20, axisH: 25, titlePad: 1.8 });
transcriptPanel("t3", { spans: tx3Spans, exons: tx3Last.map(l => tx3Shared.concat([l])), xMin: -133, xMax: 2950, xTicks: [1000, 2000], yMin: 0, yMax: 5.2, thick: 5.5, left: 28, right: 17, axisH: 20, titlePad: 0.5 });
</script>
</body>
</html>
